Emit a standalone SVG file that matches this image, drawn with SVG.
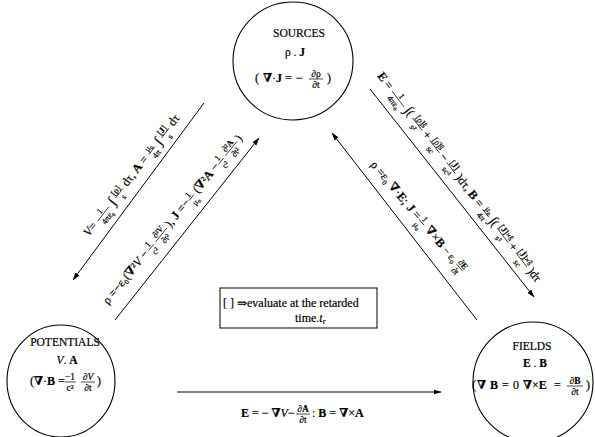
<svg xmlns="http://www.w3.org/2000/svg" width="595" height="437" viewBox="0 0 595 437">
<defs>
<style>
.t{font-family:'Liberation Serif','DejaVu Serif',serif;fill:#000;stroke:#000;stroke-width:0.2}
.c{font-size:11.5px;text-anchor:middle}
.m{font-size:12px}
.f{font-size:8.5px;text-anchor:middle}
.h{font-size:9.5px;text-anchor:middle}
.g{font-size:14px}
.b{font-weight:bold}
.i{font-style:italic}
.fb{stroke:#000;stroke-width:0.7}
.nd{fill:none;stroke:#000;stroke-width:1.1}
.ln{stroke:#000;stroke-width:1;fill:none;marker-end:url(#ah)}
</style>
<marker id="ah" markerWidth="8" markerHeight="6" refX="7.5" refY="3" orient="auto" markerUnits="userSpaceOnUse"><path d="M0,0.5 L8,3 L0,5.5 Z" fill="#000"/></marker>
</defs>
<rect width="595" height="437" fill="#fff"/>

<g id="sources">
<ellipse class="nd" cx="293" cy="61" rx="60" ry="59"/>
<text class="t c" x="299" y="37">SOURCES</text>
<text class="t c" x="295" y="56">ρ . <tspan class="b">J</tspan></text>
<text class="t m" x="255" y="82">(</text>
<text class="t m" x="263" y="82"><tspan class="b">∇</tspan>·<tspan class="b">J</tspan></text>
<text class="t m" x="285" y="82">=</text>
<text class="t m" x="296" y="82">−</text>
<text class="t h" x="316" y="77">∂ρ</text>
<line class="fb" x1="309" x2="323" y1="79" y2="79"/>
<text class="t h" x="316" y="88">∂t</text>
<text class="t m" x="327" y="82">)</text>
</g>

<g id="potentials">
<ellipse class="nd" cx="61" cy="381" rx="54" ry="56"/>
<text class="t c" x="65" y="346">POTENTIALS</text>
<text class="t c" x="67" y="364"><tspan class="i">V</tspan>. <tspan class="b">A</tspan></text>
<text class="t m" x="30" y="385">(<tspan class="b">∇</tspan>·<tspan class="b">B</tspan> =</text>
<text class="t h" x="70" y="380">−1</text>
<line class="fb" x1="65" x2="76" y1="382" y2="382"/>
<text class="t h" x="70" y="391">c²</text>
<text class="t h" x="88" y="380">∂<tspan class="i">V</tspan></text>
<line class="fb" x1="81" x2="95" y1="382" y2="382"/>
<text class="t h" x="88" y="391">∂t</text>
<text class="t m" x="97" y="385">)</text>
</g>

<g id="fields">
<ellipse class="nd" cx="533" cy="382" rx="60" ry="60"/>
<text class="t c" x="532" y="350">FIELDS</text>
<text class="t c" x="535" y="367"><tspan class="b">E</tspan> . <tspan class="b">B</tspan></text>
<text class="t m" x="472" y="389">(</text>
<text class="t m b" x="477" y="389">∇</text>
<text class="t m b" x="490" y="389">B</text>
<text class="t m" x="502" y="389">=</text>
<text class="t m" x="513" y="389">0</text>
<text class="t m" x="523" y="389"><tspan class="b">∇</tspan>×<tspan class="b">E</tspan></text>
<text class="t m" x="554" y="389">=</text>
<text class="t h" x="575" y="384">∂<tspan class="b">B</tspan></text>
<line class="fb" x1="567" x2="583" y1="386" y2="386"/>
<text class="t h" x="575" y="395">∂t</text>
<text class="t m" x="586" y="389">)</text>
</g>

<g id="note">
<rect x="220" y="288" width="157" height="40" fill="none" stroke="#000" stroke-width="1"/>
<text class="t" x="223" y="307" font-size="12">[ ] ⇒evaluate at the retarded</text>
<text class="t" x="295" y="322" font-size="12">time.<tspan class="i">t</tspan><tspan font-size="8" dy="2">r</tspan></text>
</g>

<g id="connectors">
<line class="ln" x1="204" y1="103" x2="73" y2="280"/>
<line class="ln" x1="115" y1="320" x2="259" y2="138"/>
<line class="ln" x1="370" y1="89" x2="534" y2="297"/>
<line class="ln" x1="477" y1="320" x2="332" y2="133"/>
<line class="ln" x1="177" y1="392" x2="441" y2="392"/>
</g>

<g id="connector-labels">
<g transform="translate(89,237) rotate(-52.5)">
<text class="t m" x="0" y="0"><tspan class="i">V</tspan>=</text>
<text class="t f" x="27" y="-4.5">1</text><line class="fb" x1="18" x2="36" y1="-2.7" y2="-2.7"/><text class="t f" x="27" y="5.8">4πε₀</text>
<text class="t g" x="40" y="1">∫</text>
<text class="t f" x="53" y="-4.5">[ρ]</text><line class="fb" x1="47" x2="59" y1="-2.7" y2="-2.7"/><text class="t f" x="53" y="5.8">s</text>
<text class="t m" x="63" y="0">dτ, <tspan class="b">A</tspan> =</text>
<text class="t f" x="107" y="-4.5">μ₀</text><line class="fb" x1="102" x2="112" y1="-2.7" y2="-2.7"/><text class="t f" x="107" y="5.8">4π</text>
<text class="t g" x="116" y="1">∫</text>
<text class="t f" x="129" y="-4.5">[<tspan class="b">J</tspan>]</text><line class="fb" x1="123" x2="135" y1="-2.7" y2="-2.7"/><text class="t f" x="129" y="5.8">s</text>
<text class="t m" x="139" y="0">dτ</text>
</g>

<g transform="translate(108,305) rotate(-51)">
<text class="t m" x="0" y="0">ρ =−ε₀(<tspan class="b">∇</tspan>²<tspan class="i">V</tspan> −</text>
<text class="t f" x="72" y="-4.5">1</text><line class="fb" x1="68" x2="76" y1="-2.7" y2="-2.7"/><text class="t f" x="72" y="5.8">c²</text>
<text class="t f" x="88" y="-4.5">∂²<tspan class="i">V</tspan></text><line class="fb" x1="79" x2="97" y1="-2.7" y2="-2.7"/><text class="t f" x="88" y="5.8">∂t²</text>
<text class="t m" x="99" y="0">), <tspan class="b">J</tspan> =−</text>
<text class="t f" x="136" y="-4.5">1</text><line class="fb" x1="132" x2="140" y1="-2.7" y2="-2.7"/><text class="t f" x="136" y="5.8">μ₀</text>
<text class="t m" x="143" y="0">(<tspan class="b">∇</tspan>²<tspan class="b">A</tspan> −</text>
<text class="t f" x="183" y="-4.5">1</text><line class="fb" x1="179" x2="187" y1="-2.7" y2="-2.7"/><text class="t f" x="183" y="5.8">c²</text>
<text class="t f" x="199" y="-4.5">∂²<tspan class="b">A</tspan></text><line class="fb" x1="190" x2="208" y1="-2.7" y2="-2.7"/><text class="t f" x="199" y="5.8">∂t²</text>
<text class="t m" x="210" y="0">)</text>
</g>

<g transform="translate(377,76) rotate(52.5)">
<text class="t m" x="0" y="0"><tspan class="b">E</tspan> =</text>
<text class="t f" x="31" y="-4.5">1</text><line class="fb" x1="21" x2="41" y1="-2.7" y2="-2.7"/><text class="t f" x="31" y="5.8">4πε₀</text>
<text class="t m" x="44" y="0"><tspan class="g">∫</tspan>(</text>
<text class="t f" x="63" y="-4.5">[ρ]ŝ</text><line class="fb" x1="55" x2="71" y1="-2.7" y2="-2.7"/><text class="t f" x="63" y="5.8">s²</text>
<text class="t m" x="74" y="0">+</text>
<text class="t f" x="91" y="-4.5">[ρ̇]ŝ</text><line class="fb" x1="83" x2="99" y1="-2.7" y2="-2.7"/><text class="t f" x="91" y="5.8">sc</text>
<text class="t m" x="102" y="0">−</text>
<text class="t f" x="118" y="-4.5">[<tspan class="b">J̇</tspan>]</text><line class="fb" x1="111" x2="125" y1="-2.7" y2="-2.7"/><text class="t f" x="118" y="5.8">sc²</text>
<text class="t m" x="128" y="0">)dτ, <tspan class="b">B</tspan> =</text>
<text class="t f" x="175" y="-4.5">μ₀</text><line class="fb" x1="170" x2="180" y1="-2.7" y2="-2.7"/><text class="t f" x="175" y="5.8">4π</text>
<text class="t m" x="183" y="0"><tspan class="g">∫</tspan>(</text>
<text class="t f" x="203" y="-4.5">[<tspan class="b">J</tspan>]×ŝ</text><line class="fb" x1="194" x2="212" y1="-2.7" y2="-2.7"/><text class="t f" x="203" y="5.8">s²</text>
<text class="t m" x="215" y="0">+</text>
<text class="t f" x="234" y="-4.5">[<tspan class="b">J̇</tspan>]×ŝ</text><line class="fb" x1="225" x2="243" y1="-2.7" y2="-2.7"/><text class="t f" x="234" y="5.8">sc</text>
<text class="t m" x="246" y="0">)dτ</text>
</g>

<g transform="translate(370,165) rotate(50)">
<text class="t m" x="0" y="0">ρ =ε₀ <tspan class="b">∇</tspan>·<tspan class="b">E</tspan>;</text>
<text class="t m" x="56" y="0"><tspan class="b">J</tspan> =</text>
<text class="t f" x="77" y="-4.5">1</text><line class="fb" x1="73" x2="81" y1="-2.7" y2="-2.7"/><text class="t f" x="77" y="5.8">μ₀</text>
<text class="t m" x="85" y="0"><tspan class="b">∇</tspan>×<tspan class="b">B</tspan></text>
<text class="t" x="112" y="0" font-size="10.5">− ε₀</text>
<text class="t f" x="136" y="-4.5">∂<tspan class="b">E</tspan></text><line class="fb" x1="131" x2="141" y1="-2.7" y2="-2.7"/><text class="t f" x="136" y="5.8">∂t</text>
</g>

<g>
<text class="t m" x="241" y="417"><tspan class="b">E</tspan> = − <tspan class="b">∇</tspan><tspan class="i">V</tspan>−</text>
<text class="t h" x="303" y="412">∂<tspan class="b">A</tspan></text><line class="fb" x1="296" x2="310" y1="414" y2="414"/><text class="t h" x="303" y="423">∂t</text>
<text class="t m" x="312" y="417">: <tspan class="b">B</tspan> = <tspan class="b">∇</tspan>×<tspan class="b">A</tspan></text>
</g>
</g>
</svg>
